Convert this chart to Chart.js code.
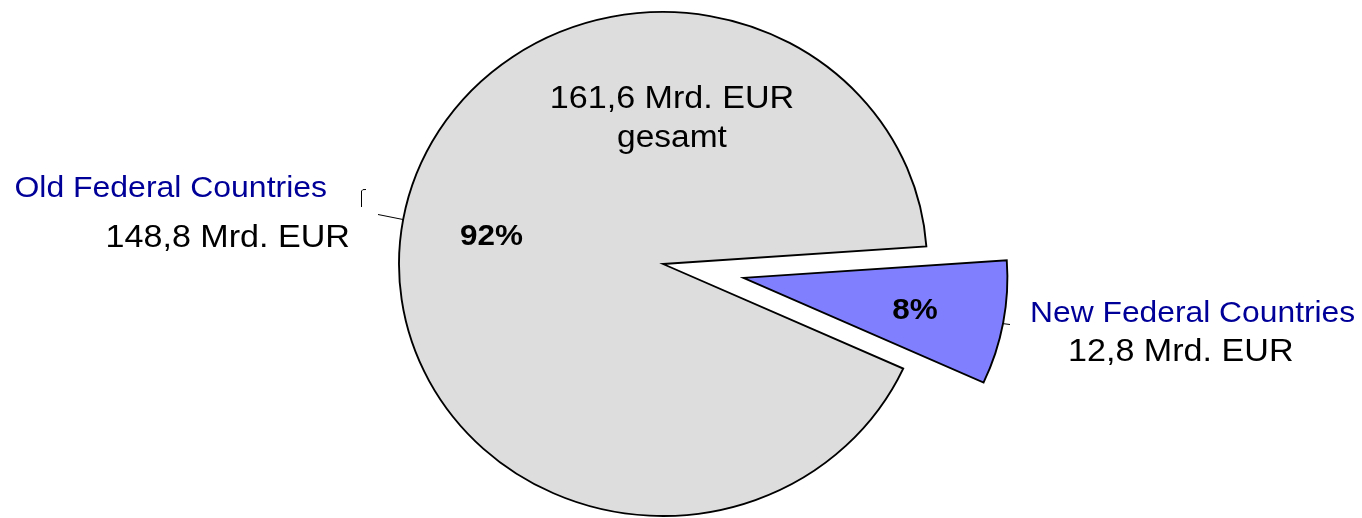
<!DOCTYPE html>
<html>
<head>
<meta charset="utf-8">
<script src="https://cdn.jsdelivr.net/npm/chart.js@4.4.1/dist/chart.umd.min.js"></script>
<style>
  body { margin: 0; background: #fff; }
  #wrap { width: 1362px; height: 518px; position: relative; }
</style>
</head>
<body>
<div id="wrap"><canvas id="pie"></canvas></div>
<script>
/******* data *******/
const categories = ['New Federal Countries', 'Old Federal Countries'];
const amounts = [12.8, 148.8];                 // Mrd. EUR
const amountLabels = ['12,8 Mrd. EUR', '148,8 Mrd. EUR'];
const percentLabels = ['8%', '92%'];
const totalLabels = ['161,6 Mrd. EUR', 'gesamt'];

/******* look *******/
const sliceColors = ['#8080FF', '#DDDDDD'];
const nameColor = '#000099';
const FONT = "'Liberation Sans', Arial, sans-serif";
const SX = 264 / 252;     // pie is a bit wider than tall
const EXPLODE = 78;       // pull-out of the small slice

// draws text slightly stretched like the rest of the picture
const stretchedText = (ctx, str, x, y, align, sx = SX) => {
    ctx.save();
    ctx.translate(x, y);
    ctx.scale(sx, 1);
    ctx.textAlign = align;
    ctx.fillText(str, 0, 0);
    ctx.restore();
};

const pieLook = {
    id: 'pieLook',
    afterUpdate(chart) {
        // move the small slice outwards along its middle angle
        const arc = chart.getDatasetMeta(0).data[0];
        if (arc && !arc._pulled) {
            const draw = arc.draw;
            arc.draw = function(ctx) {
                const mid = (this.startAngle + this.endAngle) / 2;
                ctx.save();
                ctx.translate(Math.cos(mid) * EXPLODE, Math.sin(mid) * EXPLODE);
                draw.call(this, ctx);
                ctx.restore();
            };
            arc._pulled = true;
        }
    },
    beforeDatasetsDraw(chart) {
        const ctx = chart.ctx;
        const a = chart.getDatasetMeta(0).data[1];
        ctx.save();
        ctx.translate(a.x, a.y);
        ctx.scale(SX, 1);
        ctx.translate(-a.x, -a.y);
    },
    afterDatasetsDraw(chart) {
        const ctx = chart.ctx;
        ctx.restore();
        const arcs = chart.getDatasetMeta(0).data;
        const cx = arcs[1].x, cy = arcs[1].y, r = arcs[1].outerRadius;

        // percentages inside the slices
        ctx.fillStyle = '#000';
        ctx.font = 'bold 30px ' + FONT;
        ctx.textBaseline = 'alphabetic';
        arcs.forEach((arc, i) => {
            const mid = (arc.startAngle + arc.endAngle) / 2;
            const push = i === 0 ? EXPLODE : 0;
            const px = (Math.cos(mid) * (r * 0.66 + push)) * SX + cx;
            const py = Math.sin(mid) * (r * 0.66 + push) + cy;
            stretchedText(ctx, percentLabels[i], px, py + 11, 'center');
        });

        // total
        ctx.font = '31px ' + FONT;
        stretchedText(ctx, totalLabels[0], cx + 9, 108, 'center', 1.1);
        stretchedText(ctx, totalLabels[1], cx + 9, 147, 'center', 1.08);

        // old federal countries (left)
        ctx.fillStyle = nameColor;
        ctx.font = '30px ' + FONT;
        stretchedText(ctx, categories[1], 327, 197, 'right', 1.065);
        ctx.fillStyle = '#000';
        ctx.font = '31px ' + FONT;
        stretchedText(ctx, amountLabels[1], 350, 247, 'right', 1.1);

        // new federal countries (right)
        ctx.fillStyle = nameColor;
        ctx.font = '30px ' + FONT;
        stretchedText(ctx, categories[0], 1030, 322, 'left', 1.06);
        ctx.fillStyle = '#000';
        ctx.font = '31px ' + FONT;
        stretchedText(ctx, amountLabels[0], 1068, 361, 'left', 1.1);

        // leader lines
        ctx.strokeStyle = '#000';
        ctx.lineWidth = 1;
        ctx.beginPath();
        ctx.moveTo(378, 214.5); ctx.lineTo(403, 219.5);
        ctx.moveTo(361.5, 207); ctx.lineTo(361.5, 191);
        ctx.quadraticCurveTo(362, 189, 366, 189.5);
        ctx.moveTo(1002, 323.5); ctx.lineTo(1010, 324.5);
        ctx.stroke();
    }
};

const ctx = document.getElementById('pie');
const pieChart = new Chart(ctx, {
    type: 'pie',
    data: {
        labels: categories,
        datasets: [{
            data: amounts,
            backgroundColor: sliceColors,
            borderColor: '#000',
            borderWidth: 1.8,
            borderJoinStyle: 'miter',
            clip: false
        }]
    },
    options: {
        responsive: true,
        maintainAspectRatio: false,
        animation: false,
        events: [],
        rotation: 86,
        radius: 252,
        layout: { padding: { left: 0, right: 36, top: 10, bottom: 0 } },
        plugins: {
            legend: { display: false },
            tooltip: { enabled: false }
        }
    },
    plugins: [pieLook]
});
</script>
</body>
</html>
